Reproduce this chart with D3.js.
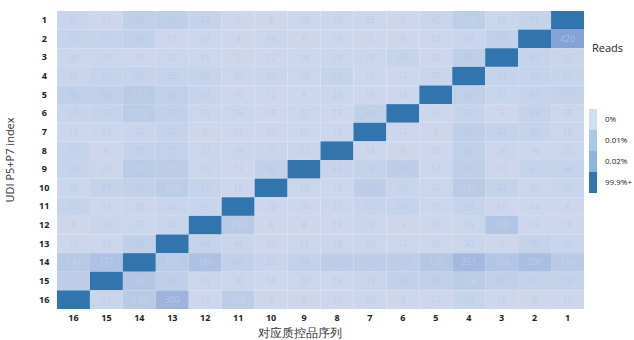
<!DOCTYPE html>
<html>
<head>
<meta charset="utf-8">
<script src="https://cdn.jsdelivr.net/npm/d3@7/dist/d3.min.js"></script>
<style>
  html, body { margin: 0; padding: 0; background: #fff; }
  svg { display: block; }
  text { font-family: "Open Sans", "Noto Sans", sans-serif; }
</style>
</head>
<body>
<svg id="chart" width="634" height="340"></svg>
<script>
// Column order as displayed (left to right)
const columns = ["16","15","14","13","12","11","10","9","8","7","6","5","4","3","2","1"];
// Row order as displayed (top to bottom)
const rows = ["1","2","3","4","5","6","7","8","9","10","11","12","13","14","15","16"];
// Matched index on the diagonal: reads shown as 99.9%+
const MATCH = 1000000;
// Cross-index reads per row, in column order above
const reads = [
  [40, 10, 90, 94, 72, 5, 8, 30, 20, 25, 5, 45, 103, 26, 71, MATCH],
  [62, 57, 78, 12, 20, 4, 18, 6, 15, 3, 8, 22, 39, 78, MATCH, 420],
  [30, 25, 10, 21, 15, 5, 12, 14, 20, 18, 60, 12, 96, MATCH, 61, 35],
  [45, 60, 60, 58, 66, 20, 36, 28, 58, 15, 12, 47, MATCH, 57, 60, 50],
  [90, 86, 121, 84, 52, 10, 12, 8, 25, 15, 14, MATCH, 87, 33, 62, 73],
  [54, 60, 115, 78, 20, 26, 10, 22, 12, 84, MATCH, 15, 59, 5, 69, 20],
  [15, 28, 40, 72, 5, 12, 10, 16, 14, MATCH, 12, 8, 91, 72, 65, 18],
  [57, 6, 72, 77, 22, 18, 31, 32, MATCH, 14, 6, 10, 85, 20, 16, 25],
  [60, 20, 120, 107, 30, 12, 80, MATCH, 52, 72, 100, 14, 91, 10, 61, 64],
  [25, 71, 82, 108, 61, 16, MATCH, 18, 14, 100, 40, 30, 121, 72, 20, 45],
  [62, 15, 20, 40, 36, MATCH, 10, 10, 22, 51, 60, 15, 59, 10, 14, 8],
  [4, 33, 27, 40, MATCH, 130, 8, 8, 12, 18, 5, 10, 26, 159, 15, 10],
  [10, 16, 90, MATCH, 64, 44, 10, 14, 18, 20, 12, 16, 30, 4, 70, 40],
  [134, 177, MATCH, 120, 180, 80, 55, 74, 100, 100, 100, 150, 251, 159, 200, 130],
  [97, MATCH, 152, 93, 20, 30, 14, 20, 16, 43, 80, 87, 116, 87, 70, 70],
  [MATCH, 34, 126, 300, 10, 110, 6, 8, 10, 20, 4, 12, 50, 10, 8, 10]
];
// Legend entries
const legendLabels = ["0%", "0.01%", "0.02%", "99.9%+"];
const legendColors = ["#cfdfef", "#a9c8e5", "#8cb4dc", "#3474b0"];

const svg = d3.select("#chart");
const margin = { left: 57, top: 11, right: 50, bottom: 31 };
const W = 634, H = 340;

const x = d3.scaleBand().domain(columns).range([margin.left, W - margin.right]).padding(0);
const y = d3.scaleBand().domain(rows).range([margin.top, H - margin.bottom]).padding(0);

const offColor = d3.scaleLinear()
  .domain([0, 20, 60, 120, 200, 300, 450])
  .range(["#cfd6eb", "#cbd6ec", "#c6d4eb", "#bacbe6", "#a9bfe2", "#9fb3dd", "#7e9ed3"])
  .clamp(true);
const cellColor = v => v >= MATCH ? "#3174ae" : offColor(v);

const cells = rows.flatMap((r, i) => columns.map((c, j) => ({ r, c, v: reads[i][j] })));

const g = svg.append("g");
g.selectAll("rect.cell")
  .data(cells)
  .join("rect")
  .attr("class", "cell")
  .attr("x", d => x(d.c))
  .attr("y", d => y(d.r))
  .attr("width", x.bandwidth())
  .attr("height", y.bandwidth())
  .attr("fill", d => cellColor(d.v));

// Faint read counts on cross-index cells
g.selectAll("text.val")
  .data(cells.filter(d => d.v < MATCH))
  .join("text")
  .attr("class", "val")
  .attr("x", d => x(d.c) + x.bandwidth() / 2)
  .attr("y", d => y(d.r) + y.bandwidth() / 2)
  .attr("dy", "0.35em")
  .attr("text-anchor", "middle")
  .attr("font-size", 8.5)
  .attr("fill", d => d.v > 100 ? "#d0dcef" : "#a9c5e7")
  .attr("fill-opacity", 0.5)
  .text(d => d.v);

// Axes
const xAxis = d3.axisBottom(x).tickSize(0).tickPadding(6);
const yAxis = d3.axisLeft(y).tickSize(0).tickPadding(11);

svg.append("g")
  .attr("transform", `translate(0,${H - margin.bottom})`)
  .call(xAxis)
  .call(a => a.select(".domain").remove())
  .selectAll("text")
  .attr("font-family", "'Open Sans', sans-serif")
  .attr("font-size", 9)
  .attr("font-weight", "bold")
  .attr("fill", "#222");

svg.append("g")
  .attr("transform", `translate(${margin.left},0)`)
  .call(yAxis)
  .call(a => a.select(".domain").remove())
  .selectAll("text")
  .attr("text-anchor", "middle")
  .attr("dx", "-0.2em")
  .attr("font-family", "'Open Sans', sans-serif")
  .attr("font-size", 9)
  .attr("font-weight", "bold")
  .attr("fill", "#222");

// Axis titles
svg.append("text")
  .attr("transform", "translate(14,160) rotate(-90)")
  .attr("text-anchor", "middle")
  .attr("font-size", 11)
  .attr("fill", "#333")
  .text("UDI P5+P7 index");

svg.append("text")
  .attr("x", 300)
  .attr("y", 337)
  .attr("text-anchor", "middle")
  .attr("font-family", "'Noto Sans CJK SC', sans-serif")
  .attr("font-size", 12)
  .attr("fill", "#333")
  .text("对应质控品序列");

// Legend
svg.append("text")
  .attr("x", 592)
  .attr("y", 52)
  .attr("font-size", 11)
  .attr("fill", "#222")
  .text("Reads");

const ly = d3.scaleBand().domain(legendLabels).range([109, 193]);
const lg = svg.append("g");
lg.selectAll("rect")
  .data(legendLabels)
  .join("rect")
  .attr("x", 589)
  .attr("y", d => ly(d))
  .attr("width", 8)
  .attr("height", ly.bandwidth())
  .attr("fill", (d, i) => legendColors[i]);
lg.selectAll("text")
  .data(legendLabels)
  .join("text")
  .attr("x", 605)
  .attr("y", d => ly(d) + ly.bandwidth() / 2)
  .attr("dy", "0.35em")
  .attr("font-size", 8)
  .attr("fill", "#222")
  .text(d => d);
</script>
</body>
</html>
